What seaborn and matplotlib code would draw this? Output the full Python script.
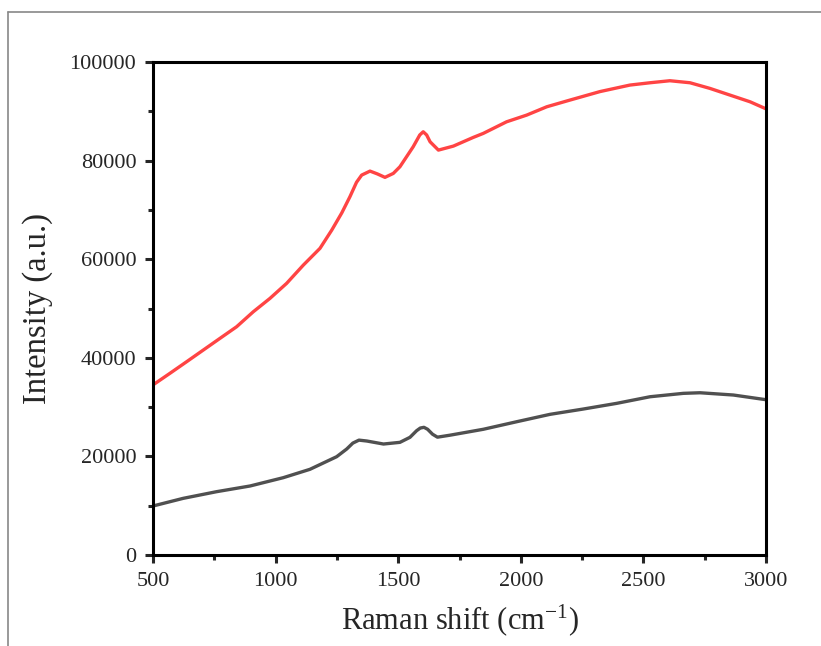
import matplotlib
matplotlib.use("Agg")
import matplotlib.pyplot as plt
import seaborn as sns
import pandas as pd
from matplotlib.ticker import MultipleLocator
from matplotlib.lines import Line2D

# values
red_shift = [500, 569, 637, 705, 773, 841, 909, 977, 1045, 1113, 1181, 1229,
             1270, 1303, 1330, 1351, 1385, 1415, 1446, 1480, 1507, 1561,
             1588, 1602, 1616, 1630, 1664, 1725, 1806, 1847, 1942, 2024,
             2106, 2200, 2323, 2445, 2527, 2608, 2690, 2771, 2853, 2935, 3000]
red_int = [34500, 36850, 39200, 41570, 43940, 46300, 49340, 52050, 55100,
           58800, 62200, 65900, 69400, 72660, 75600, 77060, 77870, 77300,
           76600, 77400, 78750, 82800, 85200, 85850, 85200, 83820, 82130,
           82940, 84700, 85520, 87870, 89230, 90920, 92270, 94000, 95320,
           95790, 96200, 95790, 94650, 93290, 91930, 90500]

gray_shift = [500, 623, 759, 896, 1031, 1140, 1249, 1290, 1315, 1340, 1372,
              1440, 1507, 1548, 1575, 1590, 1605, 1620, 1640, 1660, 1711,
              1847, 1983, 2119, 2255, 2391, 2527, 2663, 2731, 2867, 3000]
gray_int = [9940, 11490, 12840, 14000, 15680, 17380, 19940, 21500, 22700,
            23300, 23120, 22510, 22850, 23870, 25210, 25750, 25900, 25500,
            24500, 23900, 24300, 25500, 27030, 28530, 29610, 30760, 32100,
            32790, 32910, 32450, 31500]

df = pd.concat([
    pd.DataFrame({"shift": red_shift, "intensity": red_int, "sample": "red"}),
    pd.DataFrame({"shift": gray_shift, "intensity": gray_int, "sample": "gray"}),
])

sns.set_style("ticks")
plt.rcParams["font.family"] = ["Liberation Serif", "DejaVu Serif"]
plt.rcParams["mathtext.fontset"] = "custom"
plt.rcParams["mathtext.rm"] = "Liberation Serif"
plt.rcParams["mathtext.it"] = "Liberation Serif:italic"

fig = plt.figure(figsize=(8.21, 6.46), dpi=100)
ax = fig.add_axes([153 / 821, 1 - 555 / 646, 613 / 821, 493 / 646])

sns.lineplot(data=df, x="shift", y="intensity", hue="sample",
             palette={"red": "#ff4444", "gray": "#505050"},
             linewidth=2.4, legend=False, ax=ax, sort=False)

ax.set_xlim(500, 3000)
ax.set_ylim(0, 100000)
ax.xaxis.set_major_locator(MultipleLocator(500))
ax.xaxis.set_minor_locator(MultipleLocator(250))
ax.yaxis.set_major_locator(MultipleLocator(20000))
ax.yaxis.set_minor_locator(MultipleLocator(10000))

for sp in ax.spines.values():
    sp.set_linewidth(2.2)
    sp.set_color("black")
ax.tick_params(which="major", direction="out", length=6, width=2.2,
               labelsize=16, top=False, right=False, pad=6)
ax.tick_params(which="minor", direction="out", length=3.5, width=2.2,
               top=False, right=False)

ax.set_xlabel("Raman shift (cm$^{-1}$)", fontsize=22, labelpad=8)
ax.set_ylabel("Intensity (a.u.)", fontsize=23.5, labelpad=12)

# thin gray frame around the figure area
fig.add_artist(Line2D([8 / 821, 1.0], [1 - 12 / 646] * 2, color="#888888",
                      linewidth=1.2, transform=fig.transFigure))
fig.add_artist(Line2D([8 / 821] * 2, [0.0, 1 - 12 / 646], color="#888888",
                      linewidth=1.2, transform=fig.transFigure))

fig.savefig("out.png", dpi=100)
